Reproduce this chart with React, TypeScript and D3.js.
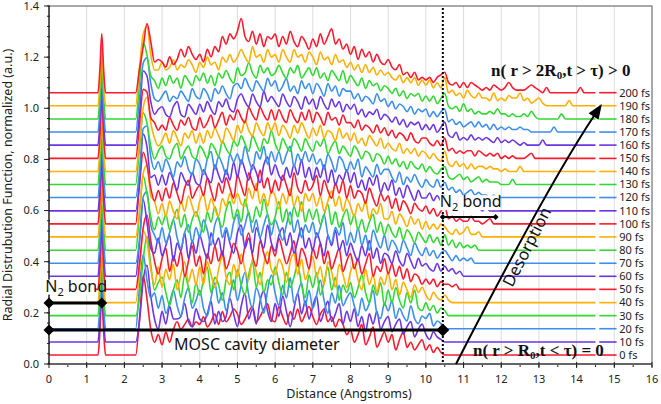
import React from "react";
import * as d3 from "d3";

// time stamps of each RDF snapshot (fs), bottom to top
const times = [0, 10, 20, 30, 40, 50, 60, 70, 80, 90, 100, 110, 120, 130, 140, 150, 160, 170, 180, 190, 200];
// vertical offset of every snapshot (normalized a.u.)
const baselines = [0.035, 0.086, 0.138, 0.189, 0.24, 0.292, 0.343, 0.394, 0.445, 0.497, 0.548, 0.599, 0.651, 0.702, 0.753, 0.804, 0.856, 0.907, 0.958, 1.01, 1.061];
const palette = ["#ff1a2e", "#6b35e8", "#3b8fef", "#33d933", "#ffb000"];

// N2 intramolecular peak, same for all snapshots (hundredths above baseline)
const n2Distances = [0, 1.3, 1.35, 1.4, 1.45, 1.5, 2.3];
const n2Peak = [0, 0, 9, 23, 9, 0, 0];

// RDF above baseline, hundredths, sampled every 0.1 A from 2.4 A (zero where list ends)
const rdf000 = [14, 31, 22, 10, 5, 8, 4, 9, 5, 10, 13, 10, 12, 14, 11, 13, 12, 15, 11, 13, 16, 12, 17, 13, 15, 18, 16, 12, 14, 17, 19, 13, 15, 18, 20, 14, 13, 19, 15, 12, 17, 14, 18, 13, 16, 19, 15, 12, 16, 18, 13, 15, 11, 14, 12, 8, 10, 5, 8, 12, 4, 7, 11, 3, 6, 9, 5, 8, 2, 6, 9, 3, 5, 2, 4, 6, 2, 4, 1, 3, 1, 0];
const rdf010 = [8, 24, 30, 18, 9, 5, 12, 7, 14, 9, 9, 10, 15, 8, 6, 13, 9, 8, 11, 16, 7, 12, 8, 10, 17, 11, 6, 14, 19, 9, 13, 7, 16, 20, 12, 8, 15, 10, 18, 12, 6, 13, 19, 11, 16, 9, 14, 18, 8, 12, 16, 8, 11, 15, 7, 12, 8, 13, 6, 10, 4, 11, 7, 12, 5, 8, 10, 4, 7, 9, 3, 6, 8, 2, 5, 7, 3, 1, 4, 2, 1, 0];
const rdf020 = [16, 29, 19, 12, 14, 8, 13, 6, 10, 15, 9, 5, 12, 16, 8, 11, 15, 8, 5, 12, 18, 10, 14, 7, 13, 19, 11, 17, 22, 13, 8, 16, 12, 6, 15, 21, 14, 9, 17, 12, 20, 10, 14, 18, 9, 15, 8, 13, 19, 11, 6, 14, 10, 17, 9, 12, 14, 9, 5, 12, 7, 10, 15, 6, 4, 10, 7, 11, 4, 8, 5, 3, 9, 4, 2, 5, 4, 6, 1, 3, 2, 0];
const rdf030 = [7, 22, 31, 20, 10, 13, 15, 9, 4, 10, 14, 7, 16, 11, 5, 13, 8, 14, 19, 9, 15, 12, 6, 14, 17, 10, 18, 12, 8, 16, 21, 11, 17, 9, 14, 12, 19, 13, 8, 17, 11, 15, 20, 12, 7, 16, 11, 17, 8, 13, 19, 10, 15, 6, 12, 9, 13, 7, 11, 16, 9, 5, 12, 8, 13, 4, 10, 5, 11, 6, 3, 9, 5, 10, 3, 2, 5, 2, 4, 1, 3, 2];
const rdf040 = [12, 28, 24, 13, 7, 14, 6, 13, 9, 15, 5, 11, 16, 8, 13, 7, 14, 7, 16, 11, 6, 13, 18, 10, 7, 15, 10, 19, 13, 9, 17, 12, 7, 15, 20, 13, 11, 17, 14, 8, 16, 19, 11, 17, 9, 13, 18, 10, 14, 7, 16, 12, 6, 15, 11, 6, 12, 15, 9, 5, 13, 7, 11, 4, 10, 7, 12, 5, 9, 3, 8, 5, 2, 7, 4, 6, 3, 1, 4, 2, 1, 3, 1];
const rdf050 = [10, 24, 29, 19, 11, 6, 12, 16, 7, 13, 9, 15, 5, 11, 17, 9, 13, 6, 14, 10, 17, 11, 15, 8, 12, 18, 15, 10, 17, 22, 13, 9, 19, 14, 10, 17, 13, 20, 15, 10, 14, 19, 9, 16, 13, 8, 16, 12, 18, 10, 15, 8, 12, 16, 7, 11, 14, 8, 12, 6, 10, 14, 5, 9, 7, 12, 6, 10, 5, 9, 4, 8, 3, 6, 5, 2, 4, 2, 4, 1, 3, 2, 2, 1, 2];
const rdf060 = [13, 30, 21, 11, 9, 15, 8, 12, 16, 6, 13, 10, 17, 7, 14, 9, 16, 11, 7, 17, 12, 15, 8, 18, 13, 9, 17, 20, 11, 15, 9, 19, 15, 11, 20, 13, 10, 16, 19, 12, 17, 9, 14, 19, 11, 15, 10, 17, 13, 8, 16, 12, 18, 10, 14, 8, 13, 9, 6, 12, 8, 14, 7, 11, 5, 9, 8, 5, 10, 6, 4, 9, 6, 3, 7, 4, 5, 3, 2, 5, 2, 4, 2, 3, 1, 2];
const rdf070 = [9, 26, 28, 15, 11, 8, 14, 8, 12, 17, 10, 6, 12, 15, 8, 14, 10, 17, 13, 7, 15, 18, 10, 14, 9, 16, 19, 11, 15, 20, 12, 17, 10, 15, 19, 11, 17, 13, 9, 15, 20, 12, 17, 10, 15, 12, 16, 10, 14, 19, 11, 8, 14, 11, 16, 7, 12, 8, 14, 7, 11, 5, 13, 9, 6, 11, 5, 9, 7, 4, 9, 6, 3, 8, 5, 3, 6, 3, 5, 2, 4, 5, 3, 1, 3, 1, 2, 1, 2];
const rdf080 = [14, 29, 22, 13, 8, 13, 10, 14, 8, 12, 16, 9, 14, 7, 12, 15, 11, 7, 15, 11, 17, 12, 9, 16, 19, 12, 16, 11, 20, 14, 11, 17, 13, 20, 14, 10, 13, 19, 11, 16, 10, 17, 13, 19, 11, 16, 12, 16, 10, 14, 18, 10, 15, 9, 13, 16, 10, 14, 8, 12, 7, 11, 14, 7, 11, 6, 10, 7, 5, 9, 4, 8, 6, 3, 7, 5, 3, 6, 3, 5, 2, 6, 2, 4, 1, 3, 1, 2, 1, 2, 0];
const rdf090 = [10, 25, 28, 16, 14, 9, 13, 8, 14, 10, 7, 14, 10, 16, 12, 8, 14, 17, 10, 15, 11, 8, 15, 12, 17, 13, 17, 13, 12, 19, 15, 21, 13, 17, 12, 18, 16, 11, 17, 13, 19, 12, 16, 10, 17, 14, 17, 12, 16, 10, 14, 18, 12, 16, 10, 15, 12, 8, 13, 10, 14, 7, 11, 9, 13, 7, 7, 10, 5, 9, 7, 4, 8, 5, 7, 3, 6, 3, 5, 3, 5, 4, 2, 1, 3, 1, 2, 4, 1, 1, 2, 0];
const rdf100 = [15, 28, 23, 14, 9, 13, 9, 14, 10, 16, 12, 8, 14, 17, 10, 13, 15, 11, 18, 13, 9, 16, 12, 18, 14, 10, 19, 15, 11, 20, 16, 13, 21, 14, 18, 12, 17, 13, 19, 15, 11, 20, 14, 12, 17, 13, 15, 19, 11, 17, 13, 10, 16, 12, 17, 10, 15, 10, 13, 12, 8, 14, 10, 7, 12, 9, 11, 6, 10, 5, 9, 7, 4, 8, 6, 5, 7, 4, 6, 3, 5, 7, 2, 3, 1, 2, 1, 1, 3, 1, 1, 0, 1, 2, 0];
const rdf110 = [11, 30, 25, 13, 14, 10, 14, 10, 15, 12, 8, 15, 12, 10, 15, 11, 10, 16, 13, 11, 18, 14, 11, 16, 12, 19, 13, 20, 16, 12, 18, 15, 11, 18, 21, 14, 18, 14, 12, 17, 13, 18, 14, 20, 13, 17, 12, 17, 13, 18, 11, 16, 10, 14, 12, 16, 11, 15, 9, 12, 8, 13, 10, 14, 7, 11, 8, 12, 6, 9, 5, 10, 7, 4, 8, 5, 5, 7, 4, 6, 4, 6, 3, 2, 3, 1, 2, 1, 3, 1, 1, 0, 1, 0];
const rdf120 = [10, 27, 28, 16, 11, 14, 10, 15, 12, 8, 14, 12, 16, 11, 9, 15, 13, 9, 15, 18, 11, 16, 13, 9, 17, 14, 17, 13, 20, 15, 11, 18, 15, 20, 13, 18, 14, 18, 13, 17, 20, 12, 17, 14, 18, 14, 17, 13, 15, 11, 17, 14, 10, 16, 14, 10, 14, 11, 15, 8, 12, 10, 8, 13, 9, 11, 11, 8, 6, 10, 5, 8, 6, 9, 6, 4, 7, 5, 4, 7, 4, 6, 3, 4, 2, 3, 1, 2, 3, 1, 2, 1, 1, 0, 1, 0];
const rdf130 = [14, 28, 24, 15, 10, 13, 15, 11, 10, 14, 16, 10, 13, 15, 11, 10, 15, 13, 10, 16, 14, 11, 17, 14, 12, 17, 15, 19, 16, 13, 19, 16, 13, 18, 16, 21, 16, 13, 18, 15, 13, 18, 16, 13, 18, 15, 13, 17, 15, 18, 12, 15, 17, 12, 15, 13, 11, 15, 13, 10, 13, 12, 9, 12, 11, 8, 11, 8, 10, 7, 9, 6, 9, 7, 6, 8, 5, 7, 5, 4, 6, 7, 3, 2, 3, 4, 2, 3, 1, 2, 3, 1, 2, 1, 1, 1, 0, 0, 0, 2, 0];
const rdf140 = [11, 25, 29, 19, 13, 10, 12, 15, 11, 16, 13, 10, 15, 13, 16, 11, 15, 11, 16, 13, 17, 14, 11, 17, 15, 12, 18, 15, 20, 16, 14, 19, 16, 14, 19, 16, 19, 14, 18, 16, 13, 18, 15, 19, 16, 13, 17, 14, 18, 13, 16, 15, 12, 17, 13, 15, 12, 15, 11, 13, 10, 14, 12, 10, 13, 9, 11, 9, 8, 11, 7, 9, 7, 9, 6, 8, 7, 5, 7, 5, 4, 8, 3, 2, 4, 2, 3, 1, 3, 1, 2, 2, 1, 2, 1, 1, 0, 1, 0, 0, 0, 2, 0];
const rdf150 = [13, 27, 26, 16, 14, 11, 13, 11, 16, 13, 11, 15, 13, 16, 12, 11, 16, 12, 14, 17, 12, 15, 18, 13, 17, 15, 19, 16, 14, 20, 17, 15, 20, 17, 15, 19, 15, 19, 16, 14, 19, 16, 14, 18, 15, 19, 14, 18, 16, 13, 18, 15, 16, 13, 17, 14, 14, 12, 15, 11, 13, 12, 10, 13, 10, 12, 9, 11, 8, 10, 9, 7, 10, 7, 6, 8, 8, 6, 5, 7, 5, 8, 3, 4, 2, 3, 2, 3, 3, 1, 3, 2, 1, 2, 1, 2, 0, 1, 0, 1, 0, 0, 0, 1, 2, 0];
const rdf160 = [12, 29, 27, 17, 12, 14, 15, 12, 11, 15, 17, 12, 11, 16, 14, 12, 16, 13, 17, 14, 12, 17, 15, 18, 14, 13, 18, 20, 17, 15, 20, 17, 15, 21, 17, 19, 17, 15, 20, 17, 15, 19, 17, 14, 19, 16, 18, 14, 19, 16, 14, 18, 15, 17, 13, 16, 14, 16, 12, 14, 11, 13, 12, 14, 10, 12, 11, 9, 11, 8, 10, 7, 9, 8, 9, 6, 8, 6, 8, 5, 7, 9, 4, 3, 5, 2, 3, 2, 4, 2, 3, 2, 3, 2, 1, 3, 1, 2, 1, 2, 1, 0, 1, 0, 0, 0, 0, 2, 0];
const rdf170 = [13, 27, 29, 19, 13, 12, 14, 16, 12, 14, 13, 16, 14, 12, 17, 14, 13, 17, 15, 12, 17, 15, 18, 15, 13, 18, 19, 17, 21, 18, 16, 20, 18, 16, 21, 18, 20, 16, 18, 21, 16, 18, 15, 20, 17, 19, 15, 19, 17, 14, 19, 16, 18, 14, 17, 16, 16, 13, 15, 12, 14, 13, 11, 15, 12, 13, 10, 12, 9, 11, 10, 8, 10, 7, 9, 8, 9, 6, 8, 6, 8, 9, 4, 5, 3, 4, 2, 3, 4, 2, 4, 2, 3, 1, 3, 1, 2, 1, 2, 1, 1, 2, 1, 1, 0, 0, 0, 0, 0, 0, 2, 0];
const rdf180 = [14, 30, 25, 17, 15, 12, 16, 13, 17, 14, 16, 12, 17, 15, 13, 17, 15, 18, 14, 17, 13, 18, 16, 19, 16, 14, 20, 17, 18, 22, 18, 16, 21, 18, 20, 17, 18, 21, 18, 16, 20, 18, 21, 16, 18, 20, 17, 20, 16, 18, 15, 19, 17, 15, 19, 14, 17, 15, 13, 16, 12, 15, 13, 14, 11, 13, 12, 10, 12, 9, 11, 8, 10, 9, 10, 7, 9, 7, 9, 6, 8, 10, 5, 4, 5, 3, 6, 3, 4, 2, 3, 2, 2, 3, 2, 4, 2, 2, 1, 2, 1, 1, 2, 1, 3, 1, 0, 0, 0, 0, 0, 0, 2, 0];
const rdf190 = [15, 28, 31, 20, 14, 14, 17, 14, 15, 18, 14, 16, 15, 18, 16, 13, 17, 15, 19, 16, 17, 14, 19, 17, 20, 17, 19, 22, 19, 17, 23, 19, 20, 17, 22, 19, 20, 17, 22, 19, 17, 22, 19, 20, 17, 21, 19, 16, 21, 18, 19, 16, 20, 17, 18, 15, 17, 14, 16, 13, 16, 13, 15, 12, 14, 12, 13, 11, 10, 12, 9, 11, 9, 11, 8, 10, 8, 10, 7, 9, 7, 11, 5, 6, 4, 5, 3, 6, 4, 3, 5, 3, 3, 2, 5, 2, 3, 2, 4, 3, 3, 5, 2, 3, 1, 2, 3, 1, 0, 0, 0, 0, 0, 0, 2, 0];
const rdf200 = [9, 18, 27, 20, 12, 13, 12, 10, 14, 11, 13, 17, 14, 18, 15, 13, 15, 12, 17, 14, 18, 16, 22, 19, 23, 21, 24, 29, 22, 20, 24, 19, 23, 18, 22, 21, 23, 18, 22, 19, 24, 20, 18, 22, 20, 17, 21, 18, 23, 19, 22, 25, 19, 21, 17, 19, 15, 18, 13, 17, 14, 16, 12, 15, 12, 11, 13, 10, 9, 11, 7, 8, 6, 8, 5, 6, 5, 6, 4, 6, 7, 8, 4, 3, 4, 2, 4, 2, 4, 3, 2, 1, 2, 1, 3, 2, 1, 2, 4, 2, 1, 1, 1, 2, 3, 2, 1, 0, 2, 0, 0, 0, 0, 0, 0, 0, 0, 2, 0];

const rdfSeries = [rdf000, rdf010, rdf020, rdf030, rdf040, rdf050, rdf060, rdf070, rdf080, rdf090, rdf100, rdf110, rdf120, rdf130, rdf140, rdf150, rdf160, rdf170, rdf180, rdf190, rdf200];

const xTicks = [0, 1, 2, 3, 4, 5, 6, 7, 8, 9, 10, 11, 12, 13, 14, 15, 16];
const yTicks = [0, 0.2, 0.4, 0.6, 0.8, 1.0, 1.2, 1.4];

const W = 661;
const H = 404;
const sans = "'Noto Sans', 'DejaVu Sans', sans-serif";
const serif = "'Liberation Serif', 'DejaVu Serif', serif";

const x = d3.scaleLinear().domain([0, 16]).range([49, 652]);
const y = d3.scaleLinear().domain([0, 1.4]).range([364, 6]);

const grid = d3.range(24, 146).map((i) => i / 10); // 2.4 .. 14.5 A
const cavityEdge = 10.45;

function Diamond({ cx, cy, r }: { cx: number; cy: number; r: number }) {
  return <path d={`M${cx},${cy - r}L${cx + r},${cy}L${cx},${cy + r}L${cx - r},${cy}Z`} fill="#000" />;
}

export default function App() {
  const line = d3
    .line<[number, number]>()
    .x((d) => x(d[0]))
    .y((d) => y(d[1]))
    .curve(d3.curveMonotoneX);

  const paths = rdfSeries.map((vals, i) => {
    const b = baselines[i];
    const pts: [number, number][] = n2Distances.map((r, k) => [r, b + n2Peak[k] / 100]);
    grid.forEach((r, k) => pts.push([r, b + (vals[k] ?? 0) / 100]));
    return line(pts)!;
  });

  // desorption arrow (quadratic)
  const a0 = [x(10.8), y(0)];
  const ac = [x(13.2), y(0.69)];
  const a1 = [x(14.67), y(1.017)];
  const ang = Math.atan2(a1[1] - ac[1], a1[0] - ac[0]);
  const hl = 15;
  const hw = 6;
  const bx = a1[0] - hl * Math.cos(ang);
  const by = a1[1] - hl * Math.sin(ang);
  const head = `M${a1[0]},${a1[1]}L${bx + hw * Math.sin(ang)},${by - hw * Math.cos(ang)}L${bx - hw * Math.sin(ang)},${by + hw * Math.cos(ang)}Z`;
  const shaftEnd = [a1[0] - (hl - 2) * Math.cos(ang), a1[1] - (hl - 2) * Math.sin(ang)];

  return (
    <svg width={W} height={H} style={{ position: "absolute", left: 0, top: 0, background: "#fff" }}>
      {/* grid */}
      {xTicks.slice(1, -1).map((t) => (
        <line key={t} x1={x(t)} x2={x(t)} y1={y(1.4)} y2={y(0)} stroke="#dcdcdc" strokeWidth={1} />
      ))}
      <rect x={x(0)} y={y(1.4)} width={x(16) - x(0)} height={y(0) - y(1.4)} fill="none" stroke="#555" strokeWidth={1} />

      {/* series */}
      {paths.map((p, i) => (
        <path key={times[i]} d={p} fill="none" stroke={palette[i % 5]} strokeWidth={1.6} strokeLinejoin="round" />
      ))}

      {/* legend keys at right */}
      {times.map((t, i) => (
        <g key={t}>
          <line x1={x(14.6)} x2={x(15.06)} y1={y(baselines[i])} y2={y(baselines[i])} stroke={palette[i % 5]} strokeWidth={1.6} />
          <text x={x(15.13)} y={y(baselines[i])} dy="0.35em" fontFamily={sans} fontSize={11} fill="#222">
            {t} fs
          </text>
        </g>
      ))}

      {/* axes */}
      <line x1={x(0)} x2={x(16)} y1={y(0)} y2={y(0)} stroke="#222" strokeWidth={1.2} />
      <line x1={x(0)} x2={x(0)} y1={y(0)} y2={y(1.4)} stroke="#222" strokeWidth={1.2} />
      {d3.range(0, 32).map((k) => (
        <line key={k} x1={x(k / 2 + 0.5)} x2={x(k / 2 + 0.5)} y1={y(0) + 1} y2={y(0) + 3} stroke="#222" />
      ))}
      {xTicks.map((t) => (
        <g key={t}>
          <line x1={x(t)} x2={x(t)} y1={y(0) - 2} y2={y(0) + 4} stroke="#222" />
          <text x={x(t)} y={383} textAnchor="middle" fontFamily={sans} fontSize={11} fill="#222">
            {t}
          </text>
        </g>
      ))}
      {d3.range(0, 36).map((k) => (
        <line key={k} x1={x(0) - 2} x2={x(0) + 1} y1={y(k * 0.04)} y2={y(k * 0.04)} stroke="#222" />
      ))}
      {yTicks.map((t) => (
        <g key={t}>
          <line x1={x(0) - 5} x2={x(0)} y1={y(t)} y2={y(t)} stroke="#222" />
          <text x={39} y={y(t)} dy="0.35em" textAnchor="end" fontFamily={sans} fontSize={11} fill="#222">
            {d3.format(".1f")(t)}
          </text>
        </g>
      ))}
      <text x={349} y={398} textAnchor="middle" fontFamily={sans} fontSize={12.5} fill="#222">
        Distance (Angstroms)
      </text>
      <text transform={`translate(12,${y(0.7)}) rotate(-90)`} textAnchor="middle" fontFamily={sans} fontSize={12.5} fill="#222">
        Radial Distrubution Function, normalized (a.u.)
      </text>

      {/* cavity edge */}
      <line x1={x(cavityEdge)} x2={x(cavityEdge)} y1={y(1.392)} y2={y(0)} stroke="#000" strokeWidth={2} strokeDasharray="2,2" />

      {/* N2 bond, left */}
      <rect x={x(-0.1)} y={y(0.33)} width={50} height={15} fill="#fff" />
      <text x={x(-0.1)} y={y(0.282)} fontFamily={sans} fontSize={16} fill="#111">
        N<tspan fontSize={11} dy={4}>2</tspan>
        <tspan dy={-4}> bond</tspan>
      </text>
      <line x1={x(0)} x2={x(1.4)} y1={y(0.239)} y2={y(0.239)} stroke="#000" strokeWidth={3} />
      <Diamond cx={x(0)} cy={y(0.239)} r={5.5} />
      <Diamond cx={x(1.4)} cy={y(0.239)} r={5.5} />

      {/* MOSC cavity diameter */}
      <line x1={x(0)} x2={x(cavityEdge)} y1={y(0.133)} y2={y(0.133)} stroke="#000" strokeWidth={3} />
      <Diamond cx={x(0)} cy={y(0.133)} r={5.5} />
      <Diamond cx={x(cavityEdge)} cy={y(0.133)} r={6.5} />
      <text x={x(3.32)} y={y(0.055)} fontFamily={sans} fontSize={16} fill="#111">
        MOSC cavity diameter
      </text>

      {/* N2 bond, right */}
      <rect x={x(10.37)} y={y(0.66)} width={60} height={15} fill="#fff" />
      <text x={x(10.37)} y={y(0.614)} fontFamily={sans} fontSize={16} fill="#111">
        N<tspan fontSize={11} dy={4}>2</tspan>
        <tspan dy={-4}> bond</tspan>
      </text>
      <line x1={x(cavityEdge)} x2={x(11.85)} y1={y(0.575)} y2={y(0.575)} stroke="#000" strokeWidth={2} />
      <Diamond cx={x(cavityEdge)} cy={y(0.575)} r={3} />
      <Diamond cx={x(11.85)} cy={y(0.575)} r={3} />

      {/* desorption arrow */}
      <path d={`M${a0[0]},${a0[1]}Q${ac[0]},${ac[1]} ${shaftEnd[0]},${shaftEnd[1]}`} fill="none" stroke="#000" strokeWidth={2} />
      <path d={head} fill="#000" />
      <text transform={`translate(${x(12.68)},${y(0.458)}) rotate(-63)`} textAnchor="middle" dy="0.35em" fontFamily={sans} fontSize={16.5} fill="#111">
        Desorption
      </text>

      {/* formulas */}
      <text x={x(11.73)} y={y(1.126)} fontFamily={serif} fontWeight="bold" fontSize={17} fill="#111">
        n( r {">"} 2R<tspan fontSize={11} dy={3}>0</tspan>
        <tspan dy={-3}>,t {">"} τ) {">"} 0</tspan>
      </text>
      <text x={x(11.25)} y={y(0.031)} fontFamily={serif} fontWeight="bold" fontSize={17} fill="#111">
        n( r {">"} R<tspan fontSize={11} dy={3}>0</tspan>
        <tspan dy={-3}>,t {"<"} τ) = 0</tspan>
      </text>
    </svg>
  );
}
